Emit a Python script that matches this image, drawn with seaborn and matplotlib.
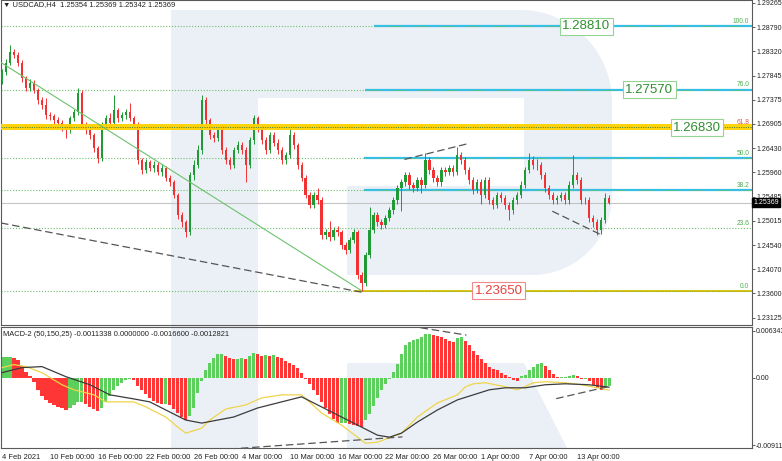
import numpy as np
import pandas as pd
import matplotlib
matplotlib.use("Agg")
import matplotlib.pyplot as plt
import matplotlib.transforms as mtrans
from matplotlib.patches import Polygon
import seaborn as sns

# ---------------- data (USDCAD H4) ----------------
first_open = 1.2775
closes = [
    1.2791, 1.2810, 1.2830, 1.2824, 1.2810, 1.2779, 1.2760, 1.2771, 1.2756, 1.2736,
    1.2727, 1.2707, 1.2705, 1.2697, 1.2693, 1.2684, 1.2678, 1.2701, 1.2713, 1.2750,
    1.2688, 1.2678, 1.2668, 1.2643, 1.2623, 1.2688, 1.2701, 1.2693, 1.2717, 1.2701,
    1.2707, 1.2713, 1.2701, 1.2688, 1.2619, 1.2600, 1.2615, 1.2604, 1.2610, 1.2596,
    1.2604, 1.2584, 1.2576, 1.2551, 1.2512, 1.2498, 1.2479, 1.2590, 1.2610, 1.2639,
    1.2736, 1.2697, 1.2668, 1.2662, 1.2682, 1.2639, 1.2619, 1.2610, 1.2639, 1.2649,
    1.2639, 1.2610, 1.2658, 1.2701, 1.2682, 1.2658, 1.2639, 1.2668, 1.2654, 1.2639,
    1.2619, 1.2629, 1.2668, 1.2649, 1.2610, 1.2584, 1.2551, 1.2532, 1.2551, 1.2541,
    1.2473, 1.2479, 1.2469, 1.2483, 1.2479, 1.2454, 1.2444, 1.2463, 1.2479, 1.2395,
    1.2380, 1.2434, 1.2483, 1.2512, 1.2498, 1.2493, 1.2506, 1.2522, 1.2541, 1.2565,
    1.2576, 1.2590, 1.2571, 1.2565, 1.2580, 1.2571, 1.2619, 1.2600, 1.2584, 1.2576,
    1.2600, 1.2596, 1.2604, 1.2596, 1.2629, 1.2619, 1.2600, 1.2580, 1.2561, 1.2576,
    1.2551, 1.2580, 1.2541, 1.2532, 1.2551, 1.2545, 1.2532, 1.2522, 1.2541, 1.2551,
    1.2571, 1.2600, 1.2619, 1.2610, 1.2610, 1.2590, 1.2565, 1.2551, 1.2541, 1.2545,
    1.2551, 1.2541, 1.2571, 1.2590, 1.2580, 1.2541, 1.2541, 1.2506, 1.2498, 1.2483,
    1.2502, 1.2545, 1.25369,
]
highs = [
    1.2797, 1.2816, 1.2844, 1.2836, 1.2830, 1.2815, 1.2784, 1.2778, 1.2776, 1.2760,
    1.2742, 1.2740, 1.2713, 1.2710, 1.2703, 1.2698, 1.2690, 1.2706, 1.2720, 1.2760,
    1.2756, 1.2694, 1.2684, 1.2672, 1.2648, 1.2694, 1.2708, 1.2712, 1.2746, 1.2722,
    1.2714, 1.2720, 1.2731, 1.2706, 1.2694, 1.2624, 1.2622, 1.2620, 1.2618, 1.2616,
    1.2612, 1.2609, 1.2590, 1.2581, 1.2556, 1.2518, 1.2503, 1.2596, 1.2620, 1.2650,
    1.2746, 1.2742, 1.2702, 1.2675, 1.2690, 1.2688, 1.2645, 1.2626, 1.2646, 1.2656,
    1.2655, 1.2645, 1.2664, 1.2707, 1.2706, 1.2688, 1.2664, 1.2675, 1.2674, 1.2660,
    1.2645, 1.2636, 1.2682, 1.2674, 1.2654, 1.2615, 1.2590, 1.2557, 1.2558, 1.2565,
    1.2547, 1.2486, 1.2500, 1.2490, 1.2492, 1.2484, 1.2460, 1.2470, 1.2486, 1.2484,
    1.2402, 1.2440, 1.2528, 1.2518, 1.2518, 1.2505, 1.2512, 1.2528, 1.2547, 1.2571,
    1.2583, 1.2597, 1.2596, 1.2577, 1.2587, 1.2586, 1.2633, 1.2625, 1.2606, 1.2590,
    1.2607, 1.2606, 1.2611, 1.2610, 1.2645, 1.2636, 1.2625, 1.2606, 1.2586, 1.2583,
    1.2582, 1.2586, 1.2586, 1.2548, 1.2558, 1.2557, 1.2551, 1.2538, 1.2548, 1.2558,
    1.2578, 1.2607, 1.2633, 1.2628, 1.2622, 1.2616, 1.2596, 1.2571, 1.2557, 1.2552,
    1.2558, 1.2557, 1.2578, 1.2629, 1.2597, 1.2586, 1.2548, 1.2547, 1.2512, 1.2504,
    1.2509, 1.2556, 1.2551,
]
lows = [
    1.2768, 1.2786, 1.2805, 1.2818, 1.2804, 1.2772, 1.2754, 1.2755, 1.2750, 1.2730,
    1.2720, 1.2700, 1.2698, 1.2690, 1.2686, 1.2676, 1.2662, 1.2672, 1.2696, 1.2708,
    1.2682, 1.2671, 1.2661, 1.2636, 1.2614, 1.2618, 1.2682, 1.2686, 1.2688, 1.2694,
    1.2695, 1.2700, 1.2695, 1.2680, 1.2612, 1.2592, 1.2594, 1.2598, 1.2597, 1.2590,
    1.2589, 1.2578, 1.2569, 1.2545, 1.2505, 1.2490, 1.2469, 1.2474, 1.2580, 1.2604,
    1.2632, 1.2690, 1.2660, 1.2655, 1.2656, 1.2632, 1.2612, 1.2603, 1.2604, 1.2633,
    1.2632, 1.2576, 1.2604, 1.2652, 1.2675, 1.2652, 1.2632, 1.2633, 1.2648, 1.2632,
    1.2612, 1.2613, 1.2623, 1.2642, 1.2603, 1.2578, 1.2545, 1.2526, 1.2526, 1.2535,
    1.2466, 1.2466, 1.2462, 1.2463, 1.2472, 1.2447, 1.2437, 1.2439, 1.2457, 1.2388,
    1.2365, 1.2375, 1.2428, 1.2477, 1.2491, 1.2486, 1.2487, 1.2500, 1.2515, 1.2535,
    1.2520, 1.2570, 1.2564, 1.2558, 1.2559, 1.2555, 1.2565, 1.2593, 1.2577, 1.2569,
    1.2570, 1.2589, 1.2590, 1.2589, 1.2590, 1.2612, 1.2593, 1.2573, 1.2554, 1.2555,
    1.2535, 1.2545, 1.2534, 1.2525, 1.2526, 1.2538, 1.2525, 1.2502, 1.2515, 1.2535,
    1.2545, 1.2565, 1.2594, 1.2603, 1.2600, 1.2583, 1.2558, 1.2544, 1.2534, 1.2535,
    1.2539, 1.2534, 1.2535, 1.2565, 1.2573, 1.2534, 1.2534, 1.2499, 1.2490, 1.2473,
    1.2476, 1.2496, 1.2534,
]
macd_hist = [
    0.00286, 0.00286, 0.00286, 0.00272, 0.00245, 0.00163, 0.00082, 0.00027, -0.00054, -0.00163,
    -0.00245, -0.00299, -0.0034, -0.00367, -0.00394, -0.00408, -0.00435, -0.00408, -0.00367, -0.00326,
    -0.00326, -0.00354, -0.00394, -0.00422, -0.00449, -0.00408, -0.00326, -0.00245, -0.00163, -0.00109,
    -0.00068, -0.00027, -0.00014, -0.00027, -0.00109, -0.00163, -0.00218, -0.00272, -0.00313, -0.0034,
    -0.00354, -0.00354, -0.00367, -0.00422, -0.00476, -0.0053, -0.00571, -0.00517, -0.00408, -0.00204,
    -0.00041, 0.00109, 0.00204, 0.00272, 0.00326, 0.00326, 0.00299, 0.00272, 0.00258, 0.00258,
    0.00272, 0.00258, 0.00299, 0.0034, 0.00326, 0.00299, 0.00313, 0.00299, 0.00313, 0.00286,
    0.00272, 0.00231, 0.00204, 0.00177, 0.00136, 0.00068, -0.00014, -0.00082, -0.00163, -0.00231,
    -0.00326, -0.00408, -0.0049, -0.00558, -0.00612, -0.00612, -0.00612, -0.00626, -0.00639, -0.00653,
    -0.00666, -0.00571, -0.0049, -0.00381, -0.00272, -0.00163, -0.00082, -0.00014, 0.00082, 0.0019,
    0.00326, 0.00435, 0.00476, 0.00503, 0.00517, 0.00544, 0.00585, 0.00585, 0.00571, 0.00558,
    0.00544, 0.00517, 0.0049, 0.00476, 0.0053, 0.00544, 0.0049, 0.00435, 0.00367, 0.00313,
    0.00258, 0.00204, 0.0015, 0.00122, 0.00109, 0.00068, 0.00041, 0.00014, -0.00027, -0.00041,
    0.00027, 0.00041, 0.00109, 0.0015, 0.0019, 0.00204, 0.00163, 0.00109, 0.00054, 0.00014,
    0.00014, 0.00014, 0.00027, 0.00041, 0.00027, -0.00014, -0.00014, -0.00041, -0.00095, -0.00136,
    -0.00163, -0.00136, -0.00113,
]
signal_idx = [0, 5, 10, 16, 22, 27, 33, 37, 41, 46, 50, 54, 58, 64, 70, 75, 80, 85, 90, 94,
              97, 100, 104, 109, 114, 118, 122, 126, 131, 136, 141, 147, 152]
signal_vals = [0.00068, 0.00136, 0.0015, 0.00014, -0.00095, -0.00231, -0.00286, -0.00326,
               -0.00435, -0.00571, -0.00612, -0.00571, -0.0053, -0.00408, -0.00326, -0.00258,
               -0.00394, -0.0053, -0.00666, -0.00775, -0.00802, -0.00748, -0.00598, -0.00435,
               -0.00299, -0.00231, -0.00163, -0.00136, -0.00136, -0.00095, -0.00082, -0.00095,
               -0.00128]
yellow_idx = [0, 3, 6, 10, 15, 18, 23, 26, 30, 33, 36, 41, 44, 46, 50, 52, 56, 61, 65, 70,
              75, 80, 85, 90, 91, 94, 100, 104, 109, 114, 116, 118, 121, 126, 129, 133, 136,
              141, 145, 149, 152]
yellow_vals = [0.00136, 0.00177, 0.0015, 0.00068, -0.00095, -0.00163, -0.00231, -0.00326,
               -0.00326, -0.00326, -0.00394, -0.0053, -0.00666, -0.00748, -0.0068, -0.00571,
               -0.00422, -0.00367, -0.00272, -0.00231, -0.00231, -0.00476, -0.00639, -0.00843,
               -0.00884, -0.0087, -0.00748, -0.0053, -0.0034, -0.00231, -0.00122, -0.00082,
               -0.00068, -0.00122, -0.00163, -0.00068, -0.00054, -0.00068, -0.00095, -0.00136,
               -0.00166]

date_labels = ["4 Feb 2021", "10 Feb 00:00", "16 Feb 00:00", "22 Feb 00:00", "26 Feb 00:00",
               "4 Mar 00:00", "10 Mar 00:00", "16 Mar 00:00", "22 Mar 00:00", "26 Mar 00:00",
               "1 Apr 00:00", "7 Apr 00:00", "13 Apr 00:00"]
date_idx = [0, 12, 24, 36, 48, 60, 72, 84, 96, 108, 120, 132, 144]
price_ticks = [1.29265, 1.28790, 1.28320, 1.27845, 1.27375, 1.26905, 1.26430, 1.25960,
               1.25485, 1.25015, 1.24540, 1.24070, 1.23600, 1.23125]
macd_ticks = [0.0063437, 0.0, -0.0091198]
macd_tick_labels = ["0.0063437", "0.00", "-0.0091198"]

fib_names = ["0.0", "23.6", "38.2", "50.0", "61.8", "76.0", "100.0"]
fib_prices = [1.23650, 1.24868, 1.25621, 1.26230, 1.26839, 1.27572, 1.28810]
box_labels = ["1.28810", "1.27570", "1.26830", "1.23650"]
box_prices = [1.28810, 1.27570, 1.26830, 1.23650]
box_idx = [146.3, 162.0, 174.0, 124.3]
last_price = 1.25369

# trend lines (candle index, value)
green_diag = ([-0.25, 90.0], [1.2810, 1.2365])
dash_main = [([-0.25, 90.0], [1.2497, 1.2362]),
             ([100.75, 116.25], [1.2621, 1.2651]),
             ([137.75, 150.25], [1.2520, 1.2473])]
dash_macd = [([57.0, 100.25], [-0.00962, -0.00798]),
             ([102.0, 116.25], [0.00698, 0.00575]),
             ([138.75, 152.0], [-0.00282, -0.00117])]

# ---------------- style ----------------
sns.set_theme(style="white")
plt.rcParams['font.family'] = ['Liberation Sans', 'DejaVu Sans']
SMALL = ['Liberation Sans Narrow', 'Liberation Sans', 'DejaVu Sans']
SFS = 5.4
YFS = 5.0

W, H = 782, 461
fig = plt.figure(figsize=(W / 100, H / 100), dpi=100)
fig.patch.set_facecolor('white')


def fx(px):
    return px / W


def fy(py):
    return 1 - py / H


ax = fig.add_axes([fx(1), fy(325), fx(752) - fx(1), fy(0.5) - fy(325)])
axm = fig.add_axes([fx(1), fy(448), fx(752) - fx(1), fy(327) - fy(448)])
for a in (ax, axm):
    a.set_facecolor('none')
    for s in a.spines.values():
        s.set_color('#5a5a5a')
        s.set_linewidth(0.8)
    a.set_xlim(-0.25, 187.75)

# ---- watermark (big "R") ----
WM = '#ebf0f6'


def arc(cx, cy, r, a0, a1, n=40):
    t = np.radians(np.linspace(a0, a1, n))
    return [(cx + r * np.cos(v), cy - r * np.sin(v)) for v in t]


bowl = [(258, 10)] + arc(520, 102, 92, 90, 0) + arc(532, 195, 80, 0, -90) + \
       [(347, 275), (347, 186), (524, 186), (524, 98), (258, 98)]
stem = [(171, 10), (258, 10), (258, 448), (171, 448)]
leg = [(347, 363), (524, 363), (567, 448), (347, 448)]
for poly in (bowl, stem, leg):
    p = Polygon([(fx(x), fy(y)) for x, y in poly], closed=True, transform=fig.transFigure,
                facecolor=WM, edgecolor='none', zorder=-1)
    fig.add_artist(p)

# ---------------- main price panel ----------------
idx = np.arange(len(closes))
opens = [first_open] + closes[:-1]
df = pd.DataFrame({'i': idx, 'open': opens, 'high': highs, 'low': lows, 'close': closes})
up = df['close'] >= df['open']
GREEN, RED = '#1f9a35', '#f23232'
ccol = np.where(up, GREEN, RED)

ax.set_ylim(1.2298, 1.2931)

FIBG = '#6cbf6c'
for name, pr in zip(fib_names, fib_prices):
    ax.axhline(pr, color=FIBG, lw=0.8, ls=(0, (1, 1.6)), zorder=1)
cyan_start = {"38.2": 90.5, "50.0": 90.5, "76.0": 90.8, "100.0": 93.2}
for name, pr in zip(fib_names, fib_prices):
    if name in cyan_start:
        ax.plot([cyan_start[name], 187.75], [pr, pr], color='#35bfe6', lw=1.6, zorder=1.5,
                solid_capstyle='butt')
        ax.plot([cyan_start[name], 187.75], [pr, pr], color=FIBG, lw=0.6, ls=(0, (1, 1.6)),
                zorder=1.6)
ax.plot([88.0, 187.75], [fib_prices[0], fib_prices[0]], color='#d4c200', lw=1.3, zorder=1.5)
ax.plot([88.0, 187.75], [fib_prices[0], fib_prices[0]], color='#7a9a2a', lw=0.5,
        ls=(0, (1, 1.6)), zorder=1.6)
ax.axhline(last_price, color='#c4c4c4', lw=0.8, zorder=1.2)

# candles
ax.vlines(df['i'], df['low'], df['high'], colors=ccol, lw=0.7, zorder=3)
body_h = (df['close'] - df['open']).abs().clip(lower=0.00005)
ax.bar(df['i'], body_h, bottom=df[['open', 'close']].min(axis=1), width=0.55,
       color=ccol, linewidth=0, zorder=4)

# 61.8 gold band
ax.axhspan(1.26783, 1.26897, color='#ffd200', alpha=0.95, lw=0, zorder=4.5)
ax.axhline(1.26840, color='#3d7d3d', lw=0.7, ls=(0, (1, 1.4)), zorder=4.6)

# trend lines
sns.lineplot(x=green_diag[0], y=green_diag[1], ax=ax, color='#6cc26c', lw=0.8, zorder=5)
for xs, ys in dash_main:
    ax.plot(xs, ys, color='#555555', lw=0.9, ls=(0, (6, 3)), zorder=5)

blend = mtrans.blended_transform_factory(ax.transAxes, ax.transData)
for name, pr in zip(fib_names, fib_prices):
    c = '#e05a4f' if name == "61.8" else '#4caf50'
    ax.annotate(name, xy=(1.0, pr), xycoords=blend, xytext=(-2, 0.8), textcoords='offset points',
                ha='right', va='bottom', fontsize=4.8, color=c, zorder=7, family=SMALL)

for lbl, pr, xi in zip(box_labels, box_prices, box_idx):
    red = lbl == "1.23650"
    ax.text(xi, pr, lbl, ha='center', va='center', fontsize=9.5,
            color='#e8413c' if red else '#2f8f2f', zorder=8,
            bbox=dict(boxstyle='square,pad=0.18', facecolor='white',
                      edgecolor='#f08a8a' if red else '#93d393', lw=0.8))

# right price axis
ax.yaxis.tick_right()
ax.set_yticks(price_ticks)
ax.set_yticklabels([f"{v:.5f}" for v in price_ticks], family=SMALL)
ax.tick_params(axis='y', direction='out', length=2, width=0.6, colors='#444444',
               labelsize=YFS, pad=1.0, labelcolor='#222222')
ax.set_xticks([])
ax.text(1.0015, last_price, f"{last_price:.5f}", transform=blend, ha='left', va='center',
        fontsize=YFS, color='white', zorder=9, clip_on=False, family=SMALL,
        bbox=dict(boxstyle='square,pad=0.2', facecolor='black', edgecolor='black'))

# ---------------- MACD panel ----------------
hist = np.array(macd_hist)
diff = np.diff(hist, prepend=hist[0])
hcol = np.where(diff >= 0, '#5ccf5c', '#ff3636')
axm.set_ylim(-0.00948, 0.00684)
axm.bar(idx, hist, width=0.8, color=hcol, linewidth=0, zorder=2)
sns.lineplot(x=yellow_idx, y=yellow_vals, ax=axm, color='#f0d44a', lw=0.9, zorder=3)
sns.lineplot(x=signal_idx, y=signal_vals, ax=axm, color='#3c3c3c', lw=0.9, zorder=3.1)
for xs, ys in dash_macd:
    axm.plot(xs, ys, color='#555555', lw=0.9, ls=(0, (6, 3)), zorder=4)

axm.yaxis.tick_right()
axm.set_yticks(macd_ticks)
axm.set_yticklabels(macd_tick_labels, family=SMALL)
axm.tick_params(axis='y', direction='out', length=2, width=0.6, colors='#444444',
                labelsize=YFS, pad=1.0, labelcolor='#222222')
axm.set_xticks(date_idx)
axm.set_xticklabels(date_labels, family=SMALL)
axm.tick_params(axis='x', direction='out', length=3, width=0.6, colors='#444444',
                labelsize=SFS, pad=1, labelcolor='#222222')
for t in axm.get_xticklabels():
    t.set_horizontalalignment('left')
axm.set_xlabel('')
axm.set_ylabel('')
ax.set_xlabel('')
ax.set_ylabel('')

fig.text(fx(3), fy(5), "\u25bc USDCAD,H4  1.25354 1.25369 1.25342 1.25369", fontsize=SFS,
         color='#222222', va='center', ha='left', family=SMALL)
fig.text(fx(3), fy(334), "MACD-2 (50,150,25) -0.0011338 0.0000000 -0.0016600 -0.0012821",
         fontsize=SFS, color='#222222', va='center', ha='left', family=SMALL)

fig.savefig('out.png', dpi=100)
